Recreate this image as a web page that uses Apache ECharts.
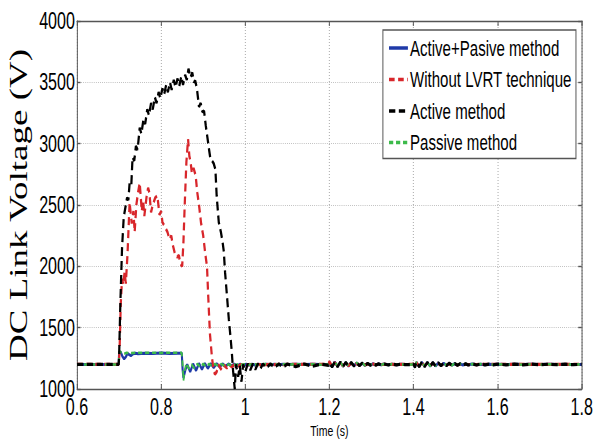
<!DOCTYPE html>
<html>
<head>
<meta charset="utf-8">
<script src="https://cdn.jsdelivr.net/npm/echarts@6/dist/echarts.min.js"></script>
<style>
html,body{margin:0;padding:0;background:#fff;overflow:hidden;width:595px;height:443px;}
/* the reference figure is horizontally condensed; draw wider and condense the whole drawing */
#chart{width:850px;height:443px;transform:scaleX(0.7);transform-origin:0 0;}
</style>
</head>
<body>
<div id="chart"></div>
<script>
// ---- data ----
const seriesNames = ['Active+Pasive method', 'Without LVRT technique', 'Active method', 'Passive method'];
const xTicks = [0.6, 0.8, 1, 1.2, 1.4, 1.6, 1.8];
const yTicks = [1000, 1500, 2000, 2500, 3000, 3500, 4000];

// fault period part, [time (s), voltage (V)]
const headActivePassive = [[0.600,1200],[0.650,1200],[0.699,1200],[0.700,1300],[0.704,1300],[0.708,1265],[0.712,1245],[0.716,1262],[0.720,1290],[0.724,1280],[0.728,1272],[0.732,1284],[0.738,1292],[0.745,1288],[0.760,1292],[0.780,1290],[0.800,1293],[0.820,1290],[0.840,1292],[0.849,1292],[0.851,1160],[0.853,1090],[0.858,1160],[0.862,1200],[0.869,1140],[0.876,1205],[0.883,1150],[0.890,1208],[0.897,1160],[0.904,1208],[0.911,1168],[0.918,1207],[0.925,1175],[0.932,1206],[0.939,1180],[0.946,1205],[0.953,1185],[0.960,1204],[0.967,1188],[0.974,1203],[0.981,1191],[0.988,1203],[0.995,1193],[1.002,1202],[1.009,1195],[1.016,1202],[1.023,1196],[1.030,1202],[1.040,1197]];

const headWithoutLVRT = [[0.600,1200],[0.650,1200],[0.699,1200],[0.701,1300],[0.704,1700],[0.707,1900],[0.710,1850],[0.713,1950],[0.716,1860],[0.720,2100],[0.725,2520],[0.730,2350],[0.734,2450],[0.737,2280],[0.741,2500],[0.745,2600],[0.749,2680],[0.754,2450],[0.757,2540],[0.760,2410],[0.765,2560],[0.769,2640],[0.772,2600],[0.776,2440],[0.780,2500],[0.786,2560],[0.791,2575],[0.796,2420],[0.800,2450],[0.803,2360],[0.808,2330],[0.812,2300],[0.815,2280],[0.820,2220],[0.824,2250],[0.828,2170],[0.833,2100],[0.838,2074],[0.842,2090],[0.846,2020],[0.850,2000],[0.853,2200],[0.856,2500],[0.860,2850],[0.864,3037],[0.867,2900],[0.870,2850],[0.873,2760],[0.877,2800],[0.882,2740],[0.886,2600],[0.890,2500],[0.895,2350],[0.900,2250],[0.905,2100],[0.909,2000],[0.912,1750],[0.916,1450],[0.921,1250],[0.925,1150],[0.928,1120],[0.932,1140],[0.936,1200],[0.940,1175],[0.945,1150],[0.950,1195],[0.956,1170],[0.962,1200],[0.968,1180],[0.975,1200],[0.982,1185],[0.990,1200],[1.000,1190],[1.010,1200],[1.020,1195],[1.030,1200],[1.040,1197]];

const headActive = [[0.600,1200],[0.650,1200],[0.699,1200],[0.700,1260],[0.703,1700],[0.707,2150],[0.711,2400],[0.715,2480],[0.719,2560],[0.722,2540],[0.725,2680],[0.729,2660],[0.732,2890],[0.736,2860],[0.740,2980],[0.744,2950],[0.749,3130],[0.753,3080],[0.758,3200],[0.762,3160],[0.767,3280],[0.771,3230],[0.776,3330],[0.780,3280],[0.785,3380],[0.789,3330],[0.794,3420],[0.798,3370],[0.803,3450],[0.807,3400],[0.812,3480],[0.816,3420],[0.821,3500],[0.825,3440],[0.830,3520],[0.834,3460],[0.839,3530],[0.843,3470],[0.848,3550],[0.852,3480],[0.857,3560],[0.861,3520],[0.865,3610],[0.870,3540],[0.874,3580],[0.878,3500],[0.881,3514],[0.885,3450],[0.890,3300],[0.894,3330],[0.898,3260],[0.902,3267],[0.906,3150],[0.910,3050],[0.914,2950],[0.917,2880],[0.921,2860],[0.925,2838],[0.929,2790],[0.932,2575],[0.937,2360],[0.942,2280],[0.946,2200],[0.949,2120],[0.952,1950],[0.956,1780],[0.961,1565],[0.965,1420],[0.968,1300],[0.971,1150],[0.975,1000],[0.978,1200],[0.983,1100],[0.987,1190],[0.991,1060],[0.995,1200],[1.000,1140],[1.006,1205],[1.012,1155],[1.018,1205],[1.024,1160],[1.030,1205],[1.036,1165],[1.042,1205]];

const headPassive = [[0.600,1200],[0.650,1200],[0.699,1200],[0.700,1305],[0.706,1300],[0.712,1288],[0.718,1296],[0.726,1292],[0.740,1296],[0.760,1294],[0.780,1296],[0.800,1294],[0.820,1296],[0.849,1295],[0.851,1200],[0.853,1070],[0.856,1150],[0.860,1210],[0.866,1165],[0.872,1200],[0.879,1170],[0.886,1205],[0.893,1178],[0.900,1205],[0.907,1183],[0.914,1204],[0.921,1187],[0.928,1204],[0.935,1190],[0.942,1203],[0.949,1193],[0.956,1203],[0.963,1195],[0.970,1202],[0.977,1196],[0.984,1202],[0.991,1197],[0.998,1202],[1.010,1198],[1.020,1202],[1.030,1198],[1.040,1202]];

// post-fault part, shared time stamps
const tailTime = [1.05,1.06,1.07,1.08,1.09,1.10,1.12,1.14,1.16,1.18,1.198,1.200,
  1.2065,1.213,1.2195,1.226,1.2325,1.239,1.2455,1.252,1.2585,1.265,1.2715,1.278,1.2845,1.291,1.2975,1.304,1.3105,1.317,1.3235,
  1.33,1.34,1.35,1.36,1.37,1.38,1.398,1.400,1.4035,
  1.407,1.4135,1.42,1.4265,1.433,1.4395,1.446,1.4525,1.459,1.4655,1.472,1.4785,1.485,1.4915,1.498,1.5045,1.511,1.5175,1.524,
  1.53,1.54,1.55,1.56,1.57,1.58,1.59,1.60,1.62,1.64,1.66,1.68,1.70,1.72,1.74,1.76,1.78,1.80];

const tailActivePassive = [1202,1198,1202,1198,1202,1199,1201,1199,1201,1199,1200,1208,
  1182,1220,1183,1218,1185,1216,1187,1214,1189,1212,1191,1210,1193,1208,1195,1206,1196,1204,1197,
  1203,1198,1202,1198,1202,1199,1200,1203,1178,
  1218,1182,1218,1184,1216,1186,1214,1188,1212,1190,1210,1192,1208,1194,1206,1195,1205,1196,1204,
  1197,1203,1198,1202,1198,1202,1199,1201,1199,1201,1199,1201,1199,1201,1200,1200,1200,1200];

const tailWithoutLVRT = [1198,1202,1198,1202,1199,1201,1200,1200,1200,1200,1200,1225,
  1185,1215,1186,1214,1188,1212,1190,1210,1192,1208,1193,1207,1195,1205,1196,1204,1197,1203,1198,
  1202,1199,1201,1199,1201,1200,1200,1204,1184,
  1214,1186,1213,1188,1211,1190,1209,1192,1207,1194,1205,1195,1204,1196,1203,1197,1202,1198,1202,
  1199,1201,1199,1201,1200,1200,1200,1200,1200,1200,1200,1200,1200,1200,1200,1200,1200,1200];

const tailActive = [1172,1205,1176,1205,1178,1204,1182,1204,1185,1203,1192,1212,
  1180,1222,1182,1220,1184,1218,1186,1216,1188,1213,1190,1211,1192,1209,1194,1207,1195,1205,1196,
  1204,1196,1203,1197,1203,1198,1199,1206,1176,
  1221,1181,1220,1183,1218,1185,1216,1187,1214,1189,1212,1191,1210,1193,1208,1194,1206,1195,1205,
  1196,1204,1196,1204,1197,1203,1197,1203,1197,1203,1197,1203,1198,1202,1198,1202,1198,1202];

const tailPassive = [1203,1197,1203,1197,1202,1198,1202,1198,1202,1198,1200,1210,
  1184,1222,1185,1219,1186,1217,1188,1215,1190,1213,1192,1211,1193,1209,1195,1207,1196,1205,1197,
  1204,1197,1203,1198,1202,1198,1200,1206,1180,
  1220,1183,1219,1185,1217,1187,1215,1189,1213,1191,1211,1193,1209,1194,1207,1195,1206,1196,1205,
  1197,1204,1197,1203,1198,1203,1198,1202,1198,1202,1198,1202,1198,1202,1199,1201,1199,1201];

function join(head, tail) {
  return head.concat(tailTime.map((t, i) => [t, tail[i]]));
}

const SANS = "'Liberation Sans',Arial,sans-serif";

const chart = echarts.init(document.getElementById('chart'), null, {renderer: 'svg', width: 850, height: 443});

const axisCommon = {
  axisLine: {show: true, onZero: false, lineStyle: {color: '#555', width: 1.4}},
  axisTick: {show: true, inside: true, length: 5, lineStyle: {color: '#555', width: 1.4}},
};

chart.setOption({
  animation: false,
  backgroundColor: '#fff',
  grid: {left: 106, right: 17, top: 21, bottom: 45, containLabel: false},
  legend: {
    orient: 'vertical',
    left: 547, top: 30,
    data: seriesNames,
    backgroundColor: '#fff',
    borderColor: '#555', borderWidth: 1.4, borderRadius: 0,
    padding: [7, 6, 5, 7],
    itemGap: 9.5, itemWidth: 27, itemHeight: 14,
    itemStyle: {color: 'transparent', borderColor: 'transparent', borderWidth: 0, opacity: 0},
    lineStyle: {width: 3.5},
    textStyle: {fontFamily: SANS, fontSize: 21.5, color: '#000', padding: [0,0,0,-2]}
  },
  xAxis: [
    Object.assign({
      type: 'value', min: xTicks[0], max: xTicks[xTicks.length-1], interval: 0.2,
      position: 'bottom',
      axisLabel: {fontFamily: SANS, fontSize: 23, color: '#000', margin: 6,
        formatter: v => String(Math.round(v*10)/10)},
      splitLine: {show: true, lineStyle: {type: [1, 2], color: '#999', width: 1}},
      name: 'Time (s)', nameLocation: 'middle', nameGap: 34,
      nameTextStyle: {fontFamily: SANS, fontSize: 15, color: '#000'}
    }, axisCommon),
    Object.assign({
      type: 'value', min: xTicks[0], max: xTicks[xTicks.length-1], interval: 0.2,
      position: 'top', axisLabel: {show: false}, splitLine: {show: false}
    }, axisCommon)
  ],
  yAxis: [
    Object.assign({
      type: 'value', min: yTicks[0], max: yTicks[yTicks.length-1], interval: 500,
      position: 'left',
      axisLabel: {fontFamily: SANS, fontSize: 23, color: '#000', margin: 3,
        formatter: v => String(v)},
      splitLine: {show: true, lineStyle: {type: [1, 2], color: '#999', width: 1}},
      name: 'DC Link Voltage (V)', nameLocation: 'middle', nameGap: 49, nameRotate: 90,
      nameTextStyle: {fontFamily: "'Liberation Serif','DejaVu Serif',serif", fontSize: 37, color: '#000'}
    }, axisCommon),
    Object.assign({
      type: 'value', min: yTicks[0], max: yTicks[yTicks.length-1], interval: 500,
      position: 'right', axisLabel: {show: false}, splitLine: {show: false}
    }, axisCommon)
  ],
  series: [
    {
      name: seriesNames[0], type: 'line', symbol: 'none', z: 2,
      data: join(headActivePassive, tailActivePassive),
      lineStyle: {color: '#1f3aa8', width: 3, type: 'solid'},
      itemStyle: {color: '#1f3aa8'}
    },
    {
      name: seriesNames[1], type: 'line', symbol: 'none', z: 3,
      data: join(headWithoutLVRT, tailWithoutLVRT),
      lineStyle: {color: '#d8262b', width: 3.2, type: [8, 5]},
      itemStyle: {color: '#d8262b'}
    },
    {
      name: seriesNames[2], type: 'line', symbol: 'none', z: 5,
      data: join(headActive, tailActive),
      lineStyle: {color: '#000', width: 3.2, type: [9, 5]},
      itemStyle: {color: '#000'}
    },
    {
      name: seriesNames[3], type: 'line', symbol: 'none', z: 4,
      data: join(headPassive, tailPassive),
      lineStyle: {color: '#3cba4a', width: 2.6, type: [6, 4]},
      itemStyle: {color: '#3cba4a'}
    }
  ]
});
</script>
</body>
</html>
